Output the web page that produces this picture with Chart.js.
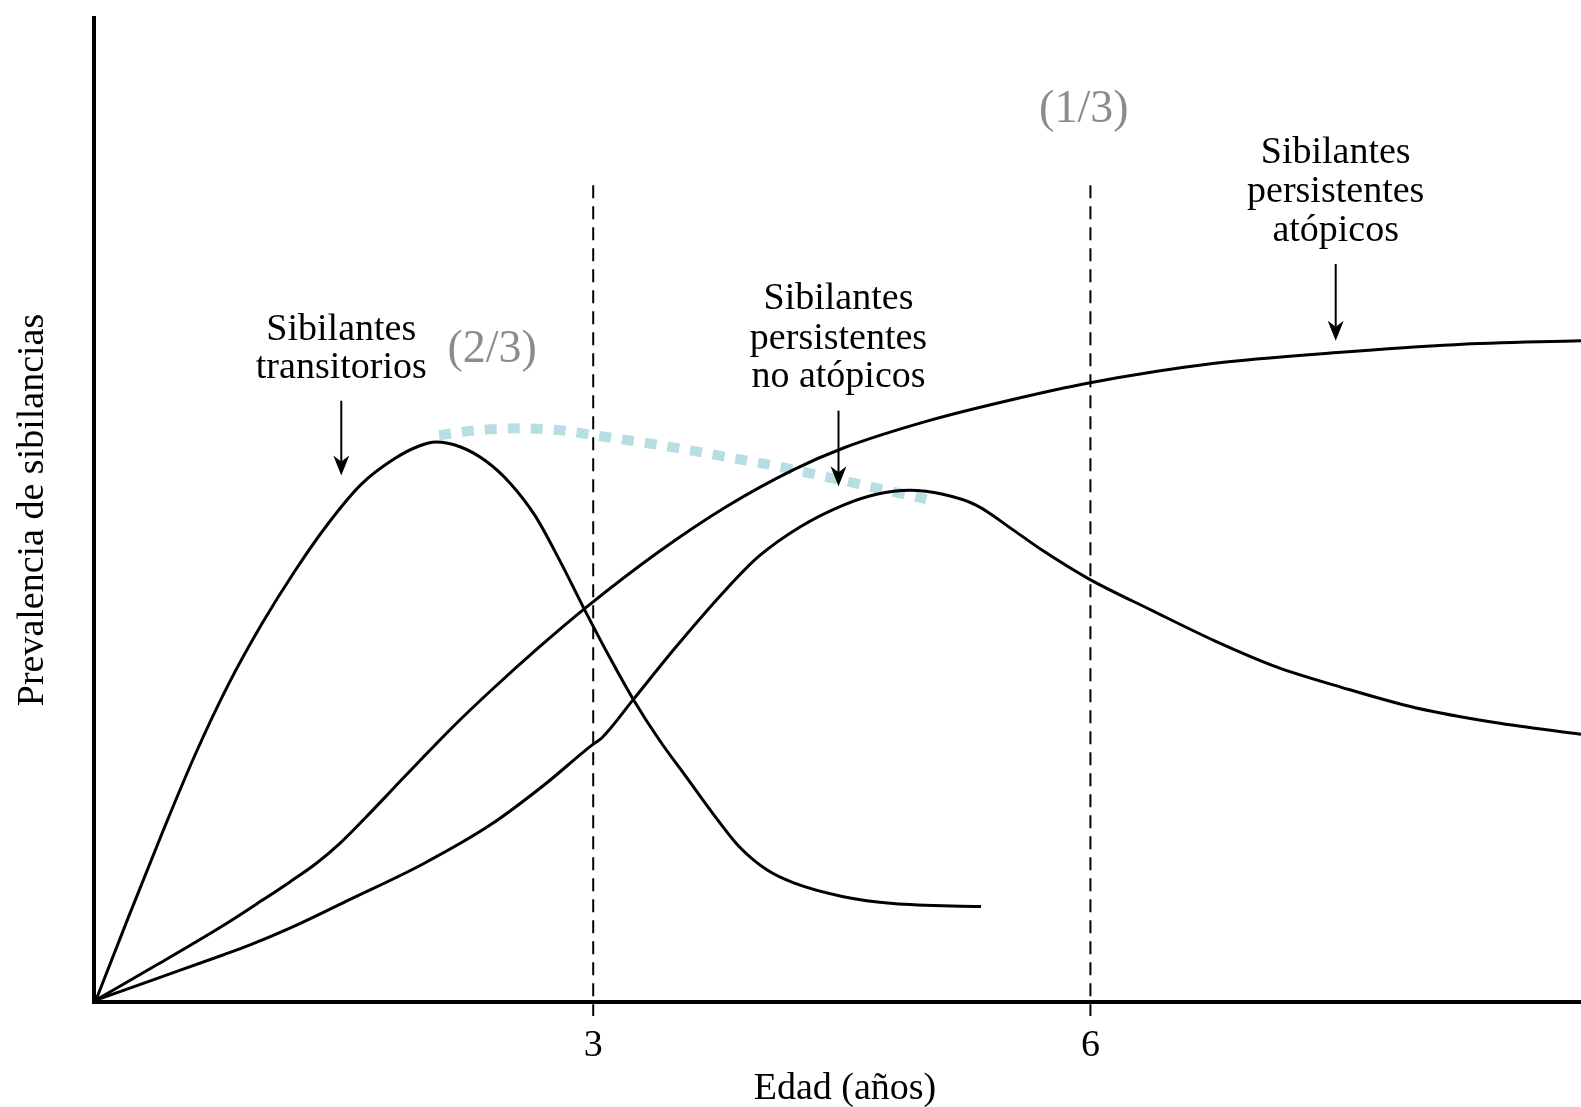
<!DOCTYPE html>
<html>
<head>
<meta charset="utf-8">
<title>Prevalencia de sibilancias</title>
<script src="https://cdn.jsdelivr.net/npm/chart.js@4.4.1/dist/chart.umd.min.js"></script>
<style>
    html, body { margin: 0; padding: 0; background: #fff; }
    #wrap { width: 1581px; height: 1107px; }
</style>
</head>
<body>
<div id="wrap"><canvas id="chart" width="1581" height="1107"></canvas></div>
<script>
// Ages (years) and prevalence (arbitrary units, 0-100)
const transAge = [0, 0.2, 0.4, 0.6, 0.8, 1.0, 1.2, 1.4, 1.6, 1.8, 1.95, 2.05, 2.2, 2.35, 2.5, 2.65, 2.8, 2.95, 3.1, 3.24, 3.4, 3.56, 3.72, 3.88, 4.05, 4.21, 4.51, 4.81, 5.34];
const transVal = [0, 8.6, 17.0, 25.0, 32.1, 38.2, 43.6, 48.4, 52.4, 55.0, 56.3, 56.7, 56.2, 54.8, 52.5, 49.2, 44.6, 39.6, 34.8, 30.6, 26.4, 22.7, 19.0, 15.6, 13.2, 11.9, 10.5, 9.8, 9.5];

const atopAge = [0, 0.37, 0.77, 1.0, 1.17, 1.33, 1.47, 1.63, 1.8, 1.97, 2.18, 2.38, 2.67, 2.95, 3.4, 3.8, 4.21, 4.51, 5.03, 5.5, 5.99, 6.75, 7.49, 8.2, 8.96];
const atopVal = [0, 3.6, 7.6, 10.1, 12.0, 13.9, 15.9, 18.6, 21.6, 24.6, 28.2, 31.4, 35.8, 39.8, 45.6, 50.1, 53.9, 56.1, 58.9, 60.9, 62.7, 64.7, 65.8, 66.6, 67.0];

const noAtopAge = [0, 0.37, 0.77, 0.93, 1.17, 1.53, 1.97, 2.38, 2.7, 3.0, 3.05, 3.24, 3.5, 3.8, 4.0, 4.25, 4.51, 4.71, 4.91, 5.11, 5.31, 5.54, 5.71, 5.99, 6.37, 6.75, 7.13, 7.51, 7.96, 8.44, 8.96];
const noAtopVal = [0, 2.2, 4.6, 5.6, 7.3, 10.2, 13.8, 17.8, 21.8, 26.0, 26.6, 30.5, 35.9, 41.7, 45.1, 48.1, 50.3, 51.4, 51.8, 51.4, 50.3, 47.7, 45.7, 42.8, 39.6, 36.5, 33.8, 31.8, 29.7, 28.2, 27.0];

// light blue envelope of the peaks
const peakAge = [2.07, 2.30, 2.58, 2.80, 3.00, 3.40, 3.80, 4.12, 4.53, 5.01];
const peakVal = [57.4, 57.9, 58.1, 57.9, 57.4, 56.4, 55.2, 54.2, 52.7, 50.9];

const ageTicks = [3, 6];
const xMax = 8.96;
const yMax = 100;
const markTop = 82.8;

const toPoints = (xs, ys) => xs.map((x, i) => ({ x: x, y: ys[i] }));

const SERIF = '"Liberation Serif", "Times New Roman", serif';

// text labels placed in data units
const labels = [
    { x: 1.48, y: [68.1, 64.2], lines: ['Sibilantes', 'transitorios'], arrow: [60.9, 53.3] },
    { x: 4.48, y: [71.2, 67.2, 63.3], lines: ['Sibilantes', 'persistentes', 'no atópicos'], arrow: [59.9, 52.2] },
    { x: 7.48, y: [86.1, 82.1, 78.1], lines: ['Sibilantes', 'persistentes', 'atópicos'], arrow: [74.8, 67.0] }
];
const fractions = [
    { x: 2.39, y: 66.1, text: '(2/3)' },
    { x: 5.96, y: 90.5, text: '(1/3)' }
];

function drawArrow(ctx, x, y1, y2) {
    ctx.save();
    ctx.strokeStyle = '#000';
    ctx.fillStyle = '#000';
    ctx.lineWidth = 2;
    ctx.beginPath();
    ctx.moveTo(x, y1);
    ctx.lineTo(x, y2 - 14);
    ctx.stroke();
    ctx.beginPath();
    ctx.moveTo(x - 8, y2 - 20);
    ctx.lineTo(x, y2 - 14);
    ctx.lineTo(x + 8, y2 - 20);
    ctx.lineTo(x, y2);
    ctx.closePath();
    ctx.fill();
    ctx.restore();
}

const decor = {
    id: 'decor',
    beforeDatasetsDraw(chart) {
        const { ctx, chartArea, scales: { x, y } } = chart;
        // dashed age markers
        ctx.save();
        ctx.strokeStyle = '#000';
        ctx.lineWidth = 2;
        ctx.setLineDash([13, 8]);
        ageTicks.forEach(t => {
            const px = x.getPixelForValue(t);
            ctx.beginPath();
            ctx.moveTo(px, y.getPixelForValue(markTop));
            ctx.lineTo(px, chartArea.bottom + 16);
            ctx.stroke();
        });
        ctx.restore();
    },
    afterDatasetsDraw(chart) {
        const { ctx, chartArea, scales: { x, y } } = chart;
        // axes
        ctx.save();
        ctx.strokeStyle = '#000';
        ctx.lineWidth = 4;
        ctx.beginPath();
        ctx.moveTo(chartArea.left - 2, chartArea.top);
        ctx.lineTo(chartArea.left - 2, chartArea.bottom + 2);
        ctx.lineTo(chartArea.right, chartArea.bottom + 2);
        ctx.stroke();
        ctx.restore();

        ctx.save();
        ctx.fillStyle = '#000';
        ctx.textAlign = 'center';
        ctx.textBaseline = 'middle';
        ctx.font = '38px ' + SERIF;
        ageTicks.forEach(t => ctx.fillText(String(t), x.getPixelForValue(t), chartArea.bottom + 46));
        ctx.fillText('Edad (años)', 845, 1089);

        ctx.save();
        ctx.translate(33, 510);
        ctx.rotate(-Math.PI / 2);
        ctx.fillText('Prevalencia de sibilancias', 0, 0);
        ctx.restore();

        labels.forEach(l => {
            const px = x.getPixelForValue(l.x);
            l.lines.forEach((s, i) => ctx.fillText(s, px, y.getPixelForValue(l.y[i])));
            drawArrow(ctx, px, y.getPixelForValue(l.arrow[0]), y.getPixelForValue(l.arrow[1]));
        });

        ctx.fillStyle = '#8c8c8c';
        ctx.font = '46px ' + SERIF;
        fractions.forEach(f => ctx.fillText(f.text, x.getPixelForValue(f.x), y.getPixelForValue(f.y)));
        ctx.restore();
    }
};

const curve = (pts, extra) => Object.assign({
    data: pts,
    borderColor: '#000',
    borderWidth: 3,
    pointRadius: 0,
    fill: false,
    cubicInterpolationMode: 'monotone',
    clip: false
}, extra || {});

new Chart(document.getElementById('chart'), {
    type: 'line',
    data: {
        datasets: [
            curve(toPoints(transAge, transVal), { label: 'Sibilantes transitorios' }),
            curve(toPoints(noAtopAge, noAtopVal), { label: 'Sibilantes persistentes no atópicos' }),
            curve(toPoints(atopAge, atopVal), { label: 'Sibilantes persistentes atópicos' }),
            curve(toPoints(peakAge, peakVal), {
                label: 'envolvente',
                borderColor: '#b6dee3',
                borderWidth: 10,
                borderDash: [12, 11],
                borderCapStyle: 'butt'
            })
        ]
    },
    options: {
        responsive: false,
        animation: false,
        devicePixelRatio: 1,
        layout: { padding: { left: 96, right: 0, top: 16, bottom: 107 } },
        plugins: { legend: { display: false }, tooltip: { enabled: false } },
        scales: {
            x: { type: 'linear', min: 0, max: xMax, display: false },
            y: { type: 'linear', min: 0, max: yMax, display: false }
        }
    },
    plugins: [decor]
});
</script>
</body>
</html>
